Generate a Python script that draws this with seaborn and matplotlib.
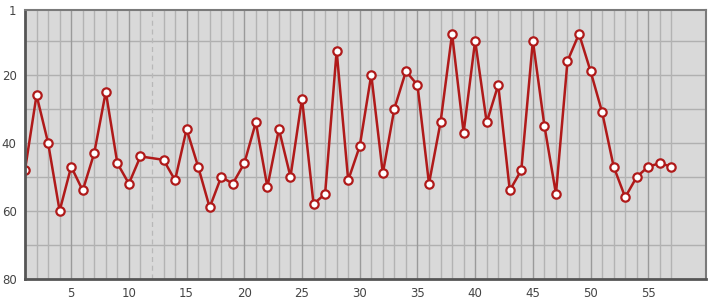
import matplotlib
matplotlib.use("Agg")
import matplotlib.pyplot as plt
import seaborn as sns
import pandas as pd
import numpy as np

x_vals = [1, 2, 3, 4, 5, 6, 7, 8, 9, 10, 11, 13, 14, 15, 16, 17, 18, 19, 20,
          21, 22, 23, 24, 25, 26, 27, 28, 29, 30, 31, 32, 33, 34, 35, 36, 37, 38, 39, 40,
          41, 42, 43, 44, 45, 46, 47, 48, 49, 50, 51, 52, 53, 54, 55, 56, 57]
ranks = [48, 26, 40, 60, 47, 54, 43, 25, 46, 52, 44, 45, 51, 36, 47, 59, 50, 52, 46,
         34, 53, 36, 50, 27, 58, 55, 13, 51, 41, 20, 49, 30, 19, 23, 52, 34, 8, 37, 10,
         34, 23, 54, 48, 10, 35, 55, 16, 8, 19, 31, 47, 56, 50, 47, 46, 47]
y_ticks = [1, 20, 40, 60, 80]
x_ticks = [5, 10, 15, 20, 25, 30, 35, 40, 45, 50, 55]
missing_x = [12]

df = pd.DataFrame({"x": x_vals, "rank": ranks})

sns.set_theme(style="white")
fig = plt.figure(figsize=(7.15, 3.0), dpi=100)
ax = fig.add_axes([25/715, 1-279/300, (706-25)/715, (279-10)/300])
ax.set_facecolor("#d9d9d9")

# grid
for v in range(10, 80, 10):
    ax.axhline(v, color="#b0b0b0", lw=1.0, zorder=1)
for v in range(2, 58):
    if v in missing_x:
        ax.axvline(v, color="#b8b8b8", lw=0.9, ls=(0, (4, 3)), zorder=1)
    elif v % 5 == 0:
        ax.axvline(v, color="#9a9a9a", lw=1.0, zorder=1)
    else:
        ax.axvline(v, color="#b3b3b3", lw=1.0, zorder=1)

sns.lineplot(data=df, x="x", y="rank", ax=ax, color="#b01a1a", lw=1.8,
             marker="o", markersize=6, markerfacecolor="white",
             markeredgecolor="#b01a1a", markeredgewidth=1.6, zorder=3)

ax.set_xlim(1, 60)
ax.set_ylim(80, 1)
ax.set_xticks(x_ticks)
ax.set_yticks(y_ticks)
ax.set_xticklabels([str(t) for t in x_ticks])
ax.set_yticklabels([str(t) for t in y_ticks])
ax.tick_params(axis="both", length=0, labelsize=8.5, colors="#444444")
ax.tick_params(axis="x", pad=6)
ax.tick_params(axis="y", pad=6)
ax.set_xlabel("")
ax.set_ylabel("")
for side in ["top", "right"]:
    ax.spines[side].set_color("#7a7a7a")
    ax.spines[side].set_linewidth(1.5)
for side in ["left", "bottom"]:
    ax.spines[side].set_color("#555555")
    ax.spines[side].set_linewidth(2.0)
for s in ax.spines.values():
    s.set_visible(True)
    s.set_zorder(5)

fig.savefig("out.png", dpi=100)
